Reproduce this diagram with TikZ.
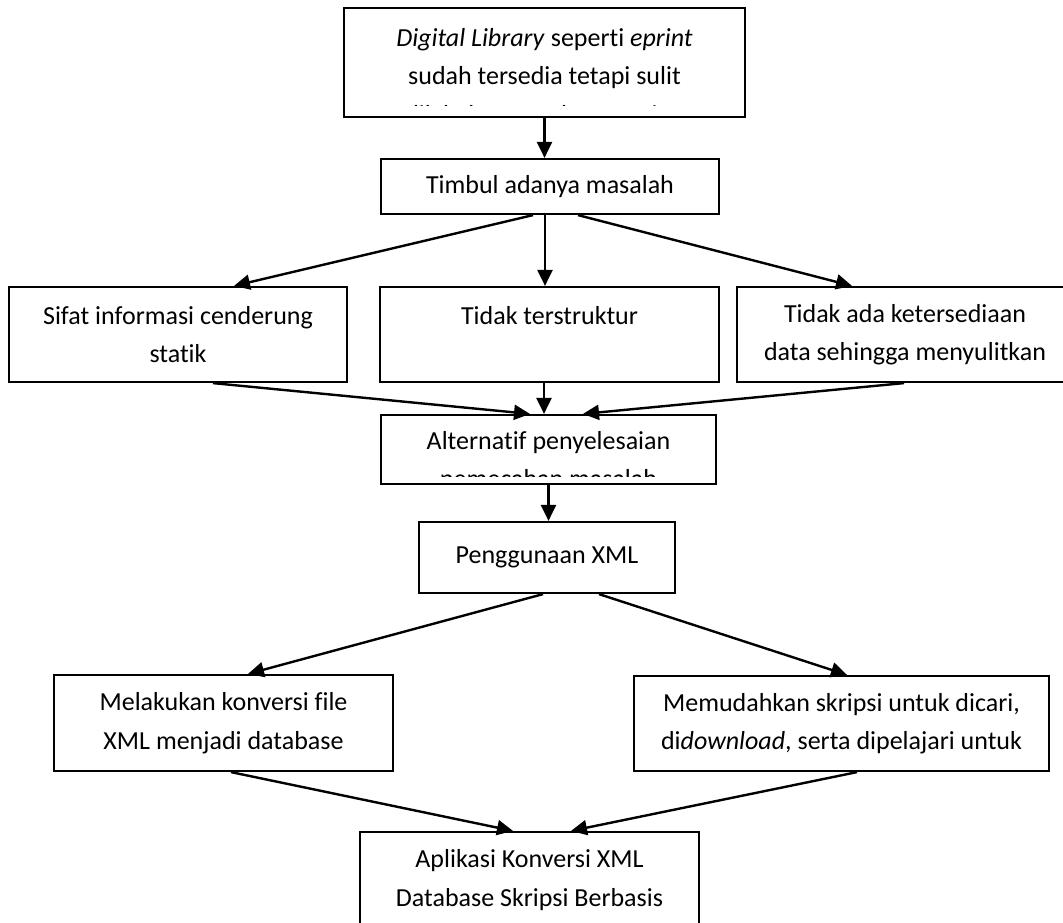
\documentclass[tikz,border=0pt]{standalone}
\usepackage{fontspec}
\setmainfont{Carlito}[Ligatures=NoCommon]
\usetikzlibrary{arrows.meta}

\begin{document}
\begin{tikzpicture}[
      x=1pt,y=-1pt,
      box/.style={draw,line width=2.2pt,align=center,inner sep=0pt,font=\fontsize{26}{38.5}\selectfont},
      txt/.style={align=center,inner sep=0pt,font=\fontsize{26}{38.5}\selectfont},
      link/.style={->,line width=2.4pt},
      >={Triangle[length=16pt,width=15pt]}
]
\useasboundingbox (0,0) rectangle (1063,922);
\clip (0,0) rectangle (1063,922);
\node[box,minimum width=401pt,minimum height=109pt] (digital) at (544.5,62.5) {};
\node[box,minimum width=338pt,minimum height=55pt] (timbul) at (550,186.5) {Timbul adanya masalah};
\node[box,minimum width=338pt,minimum height=95pt] (sifat) at (178,334.5) {Sifat informasi cenderung\\statik};
\node[box,minimum width=339pt,minimum height=95pt] (struktur) at (549.5,334.5) {Tidak terstruktur\\\mbox{}};
\node[box,minimum width=336pt,minimum height=95pt] (sedia) at (905,334.5) {Tidak ada ketersediaan\\data sehingga menyulitkan};
\node[box,minimum width=335pt,minimum height=69pt] (alternatif) at (548.5,449.5) {};
\node[box,minimum width=256pt,minimum height=71pt] (xml) at (547,557.5) {Penggunaan XML};
\node[box,minimum width=339pt,minimum height=96pt] (konversi) at (223.5,723) {Melakukan konversi file\\XML menjadi database};
\node[box,minimum width=415pt,minimum height=95pt] (mudah) at (841.5,723.5) {Memudahkan skripsi untuk dicari,\\di\textit{download}, serta dipelajari untuk};
\node[box,minimum width=339pt,minimum height=96pt] (aplikasi) at (529.5,880) {Aplikasi Konversi XML\\Database Skripsi Berbasis};
\begin{scope}
\clip (digital.north west) rectangle ([yshift=13pt]digital.south east);
\node[txt,anchor=north] (digitaltext) at ([yshift=-21pt]digital.north) {\textit{Digital Library} seperti \textit{eprint}\\sudah tersedia tetapi sulit\\dilakukan untuk pencarian};
\end{scope}
\begin{scope}
\clip (alternatif.north west) rectangle ([yshift=9pt]alternatif.south east);
\node[txt,anchor=north] (alternatiftext) at ([yshift=-17pt]alternatif.north) {Alternatif penyelesaian\\pemecahan masalah};
\end{scope}
\draw[link] (digital.south) -- (digital.south |- timbul.north);
\draw[link] ([xshift=-17pt]timbul.south) -- ([xshift=56pt]sifat.north);
\draw[link] ([xshift=-5pt]timbul.south) -- ([xshift=-4.5pt]struktur.north);
\draw[link] ([xshift=28pt]timbul.south) -- ([xshift=-53pt]sedia.north);
\draw[link] ([xshift=35pt]sifat.south) -- ([xshift=-18.5pt]alternatif.north);
\draw[link] ([xshift=-5.5pt]struktur.south) -- ([xshift=-4.5pt]alternatif.north);
\draw[link] ([xshift=-1pt]sedia.south) -- ([xshift=34.5pt]alternatif.north);
\draw[link] (alternatif.south) -- (alternatif.south |- xml.north);
\draw[link] ([xshift=-4pt]xml.south) -- ([xshift=24.5pt]konversi.north);
\draw[link] ([xshift=52pt]xml.south) -- ([xshift=5.5pt]mudah.north);
\draw[link] ([xshift=7.5pt]konversi.south) -- ([xshift=-16.5pt]aplikasi.north);
\draw[link] ([xshift=15.5pt]mudah.south) -- ([xshift=41.5pt]aplikasi.north);
\end{tikzpicture}
\end{document}
